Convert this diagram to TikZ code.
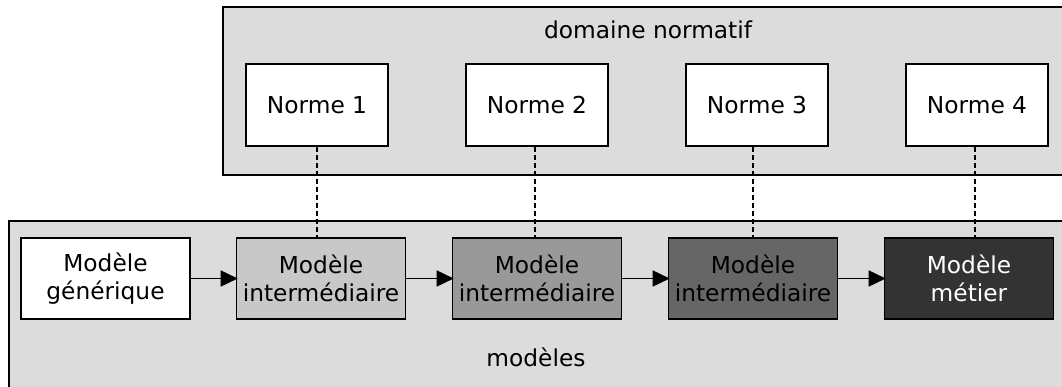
\documentclass[tikz,border=0pt]{standalone}
\usepackage{fontspec}
\setmainfont{DejaVu Sans}
\usetikzlibrary{arrows.meta}
\definecolor{bggray}{HTML}{DCDCDC}
\definecolor{gA}{HTML}{C8C8C8}
\definecolor{gB}{HTML}{999999}
\definecolor{gC}{HTML}{666666}
\definecolor{gD}{HTML}{333333}
\tikzset{
  area/.style={draw=black, fill=bggray, line width=1.6pt},
  normbox/.style={draw=black, fill=white, line width=1.6pt, minimum width=142pt, minimum height=82pt, inner sep=0pt, font=\fontsize{23.3}{28}\selectfont},
  modbox/.style={draw=black, line width=1.6pt, minimum width=169pt, minimum height=81pt, inner sep=0pt, align=center, font=\fontsize{23.3}{28}\selectfont},
  flow/.style={line width=1.5pt, -{Triangle[length=17pt,width=16pt]}, shorten >=-2pt},
  link/.style={line width=1.6pt, dash pattern=on 5pt off 3pt},
  lbl/.style={font=\fontsize{23.3}{28}\selectfont, inner sep=0pt}
}
\begin{document}
\begin{tikzpicture}[x=1pt,y=-1pt]
\useasboundingbox (0,0) rectangle (1062,387);
\clip (0,0) rectangle (1062,387);
\fill[white] (0,0) rectangle (1062,387);
% areas
\draw[area] (223,7) rectangle (1075,175);
\node[lbl] (dn) at (648,30) {domaine normatif};
\draw[area] (9,221) rectangle (1063,400);
\node[lbl] (mo) at (536,357) {modèles};
% normes
\node[normbox] (N1) at (317,105) {Norme 1};
\node[normbox] (N2) at (537,105) {Norme 2};
\node[normbox] (N3) at (757,105) {Norme 3};
\node[normbox] (N4) at (977,105) {Norme 4};
% models
\node[modbox, fill=white] (G) at (105.5,278.5) {Modèle\\générique};
\node[modbox, fill=gA] (I1) at (321,278.5) {Modèle\\intermédiaire};
\node[modbox, fill=gB] (I2) at (537,278.5) {Modèle\\intermédiaire};
\node[modbox, fill=gC] (I3) at (753,278.5) {Modèle\\intermédiaire};
\node[modbox, fill=gD, text=white] (M) at (969,278.5) {Modèle\\métier};
% flows
\draw[flow] (G) -- (I1);
\draw[flow] (I1) -- (I2);
\draw[flow] (I2) -- (I3);
\draw[flow] (I3) -- (M);
% dashed links
\draw[link] (N1.south) -- (N1.south |- I1.north);
\draw[link] ([xshift=-2pt]N2.south) -- ([xshift=-2pt]N2.south |- I2.north);
\draw[link] (I3.north |- N3.south) -- (I3.north);
\draw[link] ([xshift=-2pt]N4.south) -- ([xshift=-2pt]N4.south |- M.north);
\end{tikzpicture}
\end{document}
